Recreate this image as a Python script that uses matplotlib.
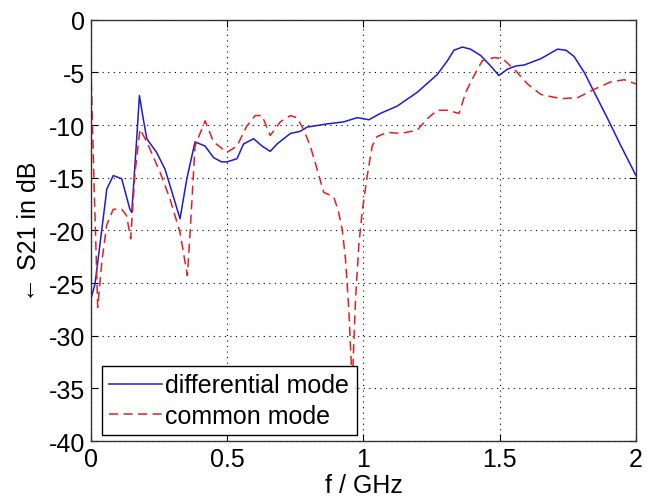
import numpy as np
import matplotlib
matplotlib.use("Agg")
import matplotlib.pyplot as plt
from matplotlib import font_manager

# differential mode (blue, solid)
f_diff = [0.0, 0.015, 0.055, 0.058, 0.082, 0.113, 0.143, 0.15, 0.168, 0.178,
          0.192, 0.205, 0.241, 0.272, 0.327, 0.352, 0.382, 0.419, 0.45, 0.48,
          0.499, 0.536, 0.56, 0.597, 0.628, 0.658, 0.683, 0.732, 0.768, 0.793,
          0.866, 0.928, 0.977, 1.02, 1.062, 1.124, 1.197, 1.271, 1.308, 1.332,
          1.363, 1.393, 1.43, 1.467, 1.497, 1.528, 1.559, 1.59, 1.651, 1.712,
          1.743, 1.773, 1.81, 1.847, 1.896, 1.945, 2.0]
s21_diff = [-26.5, -25.1, -16.8, -16.1, -14.8, -15.1, -18.0, -18.3, -11.3, -7.2,
            -9.4, -11.3, -12.6, -14.2, -18.9, -15.1, -11.6, -12.0, -13.1, -13.5,
            -13.5, -13.2, -11.8, -11.3, -12.0, -12.5, -11.8, -10.8, -10.6, -10.2,
            -9.9, -9.7, -9.3, -9.5, -8.9, -8.2, -6.9, -5.2, -3.9, -2.9,
            -2.6, -2.8, -3.4, -4.4, -5.3, -4.7, -4.4, -4.3, -3.7, -2.8,
            -2.9, -3.5, -5.0, -6.9, -9.4, -12.0, -14.8]

# common mode (red, dashed)
f_comm = [0.0, 0.012, 0.025, 0.04, 0.058, 0.082, 0.113, 0.131, 0.146, 0.162,
          0.18, 0.199, 0.217, 0.254, 0.29, 0.327, 0.354, 0.364, 0.382, 0.419,
          0.45, 0.499, 0.536, 0.572, 0.603, 0.628, 0.658, 0.695, 0.732, 0.756,
          0.78, 0.805, 0.83, 0.854, 0.891, 0.909, 0.922, 0.934, 0.946, 0.955,
          0.958, 0.962, 0.971, 0.983, 0.995, 1.014, 1.032, 1.05, 1.087, 1.136,
          1.197, 1.234, 1.271, 1.308, 1.351, 1.375, 1.406, 1.436, 1.479, 1.51,
          1.553, 1.602, 1.651, 1.724, 1.786, 1.847, 1.908, 1.957, 2.0]
s21_comm = [-4.5, -16.0, -27.3, -23.0, -19.5, -18.0, -18.0, -18.6, -20.8, -14.5,
            -10.4, -11.3, -12.3, -14.5, -17.0, -20.2, -24.3, -20.2, -12.0, -9.6,
            -11.6, -12.6, -12.0, -10.1, -9.1, -9.1, -11.0, -9.7, -9.1, -9.3,
            -10.4, -12.0, -14.2, -16.4, -16.8, -18.3, -19.9, -22.7, -27.4, -32.5,
            -38.0, -32.5, -26.5, -21.4, -18.3, -14.8, -12.0, -11.1, -10.7, -10.8,
            -10.5, -9.4, -8.6, -8.6, -8.9, -6.9, -5.3, -3.9, -3.6, -3.7,
            -4.7, -6.1, -7.1, -7.5, -7.4, -6.6, -5.9, -5.7, -6.1]

legend_labels = ["differential mode", "common mode"]

names = {f.name for f in font_manager.fontManager.ttflist}
family = "Liberation Sans Narrow" if "Liberation Sans Narrow" in names else "Liberation Sans"
plt.rcParams['font.family'] = [family, 'DejaVu Sans']
plt.rcParams['axes.unicode_minus'] = False

fig = plt.figure(figsize=(6.54, 5.02), dpi=100)
ax = fig.add_axes([0.139, 0.1195, 0.8335, 0.8393])

ax.plot(f_diff, s21_diff, color='#1c1cd0', lw=1.1, label=legend_labels[0])
ax.plot(f_comm, s21_comm, color='#e02020', lw=1.1, ls=(0, (6, 3.5)),
        label=legend_labels[1])

ax.set_xlim(0, 2)
ax.set_ylim(-40, 0)
ax.set_xticks([0, 0.5, 1, 1.5, 2])
ax.set_xticklabels(['0', '0.5', '1', '1.5', '2'])
ax.set_yticks(np.arange(-40, 1, 5))
ax.grid(True, color='black', ls=(0, (1, 4)), lw=0.8)
ax.tick_params(direction='in', top=True, right=True, labelsize=18, length=5, pad=4)
for sp in ax.spines.values():
    sp.set_linewidth(1.0)
    sp.set_color('#333333')

ax.set_xlabel('f / GHz', fontsize=18, labelpad=2)
ax.set_ylabel('\u2190 S21 in dB', fontsize=18, labelpad=6)

leg = ax.legend(loc='lower left', bbox_to_anchor=(0.0196, 0.014), borderaxespad=0,
                fancybox=False, edgecolor='black', framealpha=1, fontsize=18,
                handlelength=2.1, handletextpad=0.15, borderpad=0.3,
                labelspacing=0.25)
leg.get_frame().set_linewidth(1.0)

fig.savefig('out.png', dpi=100)
